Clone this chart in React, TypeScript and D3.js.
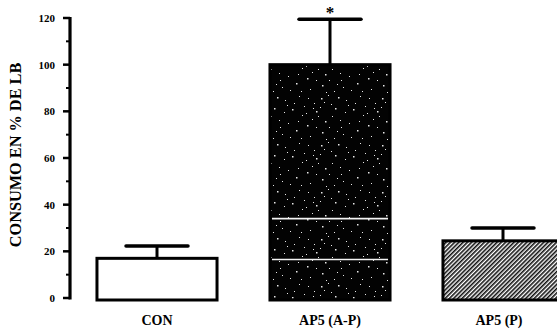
import { useEffect, useRef } from "react";
import * as d3 from "d3";

const categories = ["CON", "AP5 (A-P)", "AP5 (P)"];
const means = [17, 100, 24.5];
const errors = [5.3, 19.5, 5.5];
const fills = ["white", "url(#speckle)", "url(#hatch)"];
const yTicks = [0, 20, 40, 60, 80, 100, 120];
const minorTicks = [10, 30, 50, 70, 90, 110];
// white scan streaks across the dark bar, in data units
const streaks = [34, 16.5];

const W = 557;
const H = 329;

export default function App() {
  const ref = useRef<SVGSVGElement>(null);

  useEffect(() => {
    const svg = d3.select(ref.current);
    svg.selectAll("*").remove();

    const y = d3.scaleLinear().domain([0, 120]).range([298, 18]);
    const x = d3
      .scaleBand()
      .domain(categories)
      .range([70.5, 589.5])
      .paddingInner(0.306)
      .paddingOuter(0.153);

    const defs = svg.append("defs");

    // hatched fill for AP5 (P)
    const hatch = defs
      .append("pattern")
      .attr("id", "hatch")
      .attr("patternUnits", "userSpaceOnUse")
      .attr("width", 3)
      .attr("height", 3)
      .attr("patternTransform", "rotate(45)");
    hatch.append("rect").attr("width", 3).attr("height", 3).attr("fill", "white");
    hatch.append("rect").attr("width", 1.6).attr("height", 3).attr("fill", "#111");

    // dark speckled fill for AP5 (A-P)
    const sp = defs
      .append("pattern")
      .attr("id", "speckle")
      .attr("patternUnits", "userSpaceOnUse")
      .attr("width", 61)
      .attr("height", 47);
    sp.append("rect").attr("width", 61).attr("height", 47).attr("fill", "#030303");
    const dots = [
      [3, 4, 1], [11, 17, 1.5], [19, 8, 1], [27, 22, 1], [33, 3, 1.5], [7, 25, 1],
      [15, 13, 1], [23, 1, 1], [30, 14, 1.5], [1, 19, 1], [35, 26, 1], [20, 27, 1.5],
      [9, 9, 1], [26, 10, 1], [13, 22, 1], [41, 6, 1], [48, 15, 1.5], [55, 2, 1],
      [58, 21, 1], [44, 29, 1], [52, 36, 1.5], [38, 40, 1], [29, 44, 1], [17, 38, 1.5],
      [5, 42, 1], [11, 33, 1], [24, 33, 1], [46, 43, 1], [57, 44, 1], [40, 18, 1],
      [50, 9, 1], [36, 33, 1], [2, 31, 1.5], [32, 37, 1], [54, 27, 1], [21, 45, 1],
      [43, 11, 1], [16, 4, 1.5], [60, 12, 1], [8, 14, 1],
    ];
    sp.selectAll("rect.dot")
      .data(dots)
      .enter()
      .append("rect")
      .attr("class", "dot")
      .attr("x", (d) => d[0])
      .attr("y", (d) => d[1])
      .attr("width", (d) => d[2])
      .attr("height", (d) => d[2])
      .attr("fill", "#e8e8e8");

    const g = svg.append("g");
    const font = "Liberation Serif, 'Times New Roman', serif";

    // bars
    categories.forEach((c, i) => {
      const x0 = x(c)!;
      const bw = x.bandwidth();
      const cx = x0 + bw / 2;
      const top = y(means[i]);
      const errTop = y(means[i] + errors[i]);

      // error bar (only upward)
      g.append("line")
        .attr("x1", cx)
        .attr("x2", cx)
        .attr("y1", top)
        .attr("y2", errTop)
        .attr("stroke", "#000")
        .attr("stroke-width", 3);
      g.append("line")
        .attr("x1", cx - 31)
        .attr("x2", cx + 31)
        .attr("y1", errTop)
        .attr("y2", errTop)
        .attr("stroke", "#000")
        .attr("stroke-width", 3.5)
        .attr("stroke-linecap", "round");

      g.append("rect")
        .attr("x", x0)
        .attr("y", top)
        .attr("width", bw)
        .attr("height", y(0) - top + 2)
        .attr("fill", fills[i])
        .attr("stroke", "#000")
        .attr("stroke-width", 3);

      if (i === 1) {
        streaks.forEach((s) => {
          g.append("line")
            .attr("x1", x0 + 2)
            .attr("x2", x0 + bw - 2)
            .attr("y1", y(s))
            .attr("y2", y(s))
            .attr("stroke", "#f4f4f4")
            .attr("stroke-width", 1.6);
        });
        g.append("text")
          .attr("x", cx)
          .attr("y", 18)
          .attr("text-anchor", "middle")
          .attr("font-family", font)
          .attr("font-weight", "bold")
          .attr("font-size", 17)
          .text("*");
      }

      g.append("text")
        .attr("x", i === 2 ? cx - 4 : cx)
        .attr("y", 325)
        .attr("text-anchor", "middle")
        .attr("font-family", font)
        .attr("font-weight", "bold")
        .attr("font-size", 14)
        .text(c);
    });

    // y axis
    const ax = g.append("g").attr("transform", "translate(70,0)");
    ax.append("line")
      .attr("x1", 0)
      .attr("x2", 0)
      .attr("y1", y(120) - 1)
      .attr("y2", y(0) + 1.5)
      .attr("stroke", "#000")
      .attr("stroke-width", 3.2);
    ax.selectAll(".maj")
      .data(yTicks)
      .enter()
      .append("line")
      .attr("x1", -7)
      .attr("x2", 0)
      .attr("y1", (d) => y(d))
      .attr("y2", (d) => y(d))
      .attr("stroke", "#000")
      .attr("stroke-width", 2.5);
    ax.selectAll(".min")
      .data(minorTicks)
      .enter()
      .append("line")
      .attr("x1", -4)
      .attr("x2", 0)
      .attr("y1", (d) => y(d))
      .attr("y2", (d) => y(d))
      .attr("stroke", "#000")
      .attr("stroke-width", 2);
    ax.selectAll("text")
      .data(yTicks)
      .enter()
      .append("text")
      .attr("x", -15)
      .attr("y", (d) => y(d))
      .attr("dy", "0.35em")
      .attr("text-anchor", "end")
      .attr("font-family", font)
      .attr("font-weight", "bold")
      .attr("font-size", 11)
      .text((d) => d);

    g.append("text")
      .attr("transform", "translate(21,155) rotate(-90)")
      .attr("text-anchor", "middle")
      .attr("font-family", font)
      .attr("font-weight", "bold")
      .attr("font-size", 16.3)
      .text("CONSUMO EN % DE LB");
  }, []);

  return (
    <svg
      ref={ref}
      width={W}
      height={H}
      style={{ position: "absolute", left: 0, top: 0, background: "white" }}
    />
  );
}
